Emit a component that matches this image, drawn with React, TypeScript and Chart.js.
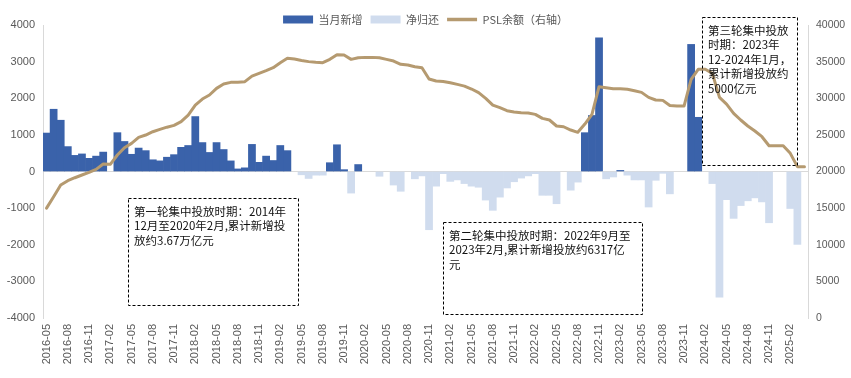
import React, { useEffect, useRef } from 'react';
import { Chart, registerables } from 'chart.js';

Chart.register(...registerables);

// ---- categories (monthly) ----
const months = [
  '2016-05', '2016-06', '2016-07', '2016-08', '2016-09', '2016-10', '2016-11', '2016-12',
  '2017-01', '2017-02', '2017-03', '2017-04', '2017-05', '2017-06', '2017-07', '2017-08', '2017-09', '2017-10', '2017-11', '2017-12',
  '2018-01', '2018-02', '2018-03', '2018-04', '2018-05', '2018-06', '2018-07', '2018-08', '2018-09', '2018-10', '2018-11', '2018-12',
  '2019-01', '2019-02', '2019-03', '2019-04', '2019-05', '2019-06', '2019-07', '2019-08', '2019-09', '2019-10', '2019-11', '2019-12',
  '2020-01', '2020-02', '2020-03', '2020-04', '2020-05', '2020-06', '2020-07', '2020-08', '2020-09', '2020-10', '2020-11', '2020-12',
  '2021-01', '2021-02', '2021-03', '2021-04', '2021-05', '2021-06', '2021-07', '2021-08', '2021-09', '2021-10', '2021-11', '2021-12',
  '2022-01', '2022-02', '2022-03', '2022-04', '2022-05', '2022-06', '2022-07', '2022-08', '2022-09', '2022-10', '2022-11', '2022-12',
  '2023-01', '2023-02', '2023-03', '2023-04', '2023-05', '2023-06', '2023-07', '2023-08', '2023-09', '2023-10', '2023-11', '2023-12',
  '2024-01', '2024-02', '2024-03', '2024-04', '2024-05', '2024-06', '2024-07', '2024-08', '2024-09', '2024-10', '2024-11', '2024-12',
  '2025-01', '2025-02', '2025-03', '2025-04',
];

// ---- monthly net change of PSL (亿元): >0 当月新增, <0 净归还 ----
const netChange = [
  1050, 1700, 1400, 680, 440, 480, 360, 420,
  530, 0, 1060, 820, 470, 640, 570, 320, 290, 390, 460, 660,
  710, 1500, 790, 520, 790, 600, 290, 70, 100, 740, 250, 420,
  300, 710, 570, 0, -90, -190, -100, -100, 240, 730, 50, -590,
  190, 0, 0, -130, 0, -370, -540, 0, -200, -120, -1590, -400,
  -60, -270, -230, -330, -400, -430, -780, -1060, -700, -450, -280, -180,
  -120, -60, -650, -650, -880, 0, -510, -290, 1060, 1530, 3650, -200,
  -150, 30, -100, -230, -230, -970, -240, -50, -610, 0, 0, 3470,
  1480, 0, -330, -3430, -770, -1280, -930, -800, -720, -830, -1400, 0,
  0, -1010, -1990, 0,
];

// ---- PSL balance (亿元, right axis) ----
const pslBalance = [
  15000, 16560, 18150, 18750, 19150, 19520, 19880, 20290,
  21020, 20980, 22250, 23250, 23840, 24660, 24980, 25430, 25750, 26050, 26300, 26800,
  27700, 29070, 29890, 30440, 31350, 31940, 32170, 32200, 32260, 33030, 33400, 33760,
  34170, 34850, 35450, 35350, 35150, 35000, 34900, 34850, 35310, 35950, 35900, 35310,
  35530, 35580, 35580, 35530, 35310, 35080, 34630, 34530, 34300, 34170, 32620, 32350,
  32300, 32120, 31890, 31660, 31260, 30760, 29990, 29070, 28710, 28300, 28120, 28030,
  27980, 27800, 27250, 27030, 26210, 26110, 25660, 25350, 26480, 27800, 31580, 31440,
  31300, 31300, 31220, 31030, 30800, 30120, 29760, 29710, 29000, 28940, 28940, 32580,
  33950, 33950, 33400, 30120, 29210, 27940, 27030, 26210, 25530, 24750, 23520, 23520,
  23520, 22480, 20660, 20660,
];

// ---- axis tick settings ----
const leftAxisRange = [-4000, 4000, 1000];
const rightAxisRange = [0, 40000, 5000];

// ---- series labels ----
const seriesNames = ['当月新增', '净归还', 'PSL余额（右轴）'];

// ---- annotation texts ----
const noteTexts = [
  ['第一轮集中投放时期：2014年', '12月至2020年2月,累计新增投', '放约3.67万亿元'],
  ['第二轮集中投放时期：2022年9月至', '2023年2月,累计新增投放约6317亿', '元'],
  ['第三轮集中投放', '时期：2023年', '12-2024年1月，', '累计新增投放约', '5000亿元'],
];
// box extents in [category index from, to, left-axis value top, bottom]
const noteBoxes = [
  [11.5, 35.5, -720, -3640],
  [56.0, 84.0, -1370, -3880],
  [92.6, 106.0, 4210, 190],
];

const newIssue = netChange.map((v) => (v > 0 ? v : null));
const netRepay = netChange.map((v) => (v < 0 ? v : null));

const DARK = '#3A62AA';
const LIGHT = '#D0DCEE';
const TAN = '#B59A70';
const AXIS = '#D9D9D9';
const TICK = '#595959';

const notesPlugin = {
  id: 'notes',
  afterDraw(chart: any) {
    const { ctx } = chart;
    const x = chart.scales.x;
    const y = chart.scales.y;
    ctx.save();
    noteBoxes.forEach((b, k) => {
      const l = Math.round(x.getPixelForValue(b[0])) + 0.5;
      const r = Math.round(x.getPixelForValue(b[1])) + 0.5;
      const t = Math.round(y.getPixelForValue(b[2])) + 0.5;
      const bt = Math.round(y.getPixelForValue(b[3])) + 0.5;
      ctx.setLineDash([3, 2]);
      ctx.lineWidth = 1;
      ctx.strokeStyle = '#000';
      ctx.strokeRect(l, t, r - l, bt - t);
      ctx.setLineDash([]);
      ctx.fillStyle = '#111';
      ctx.font = '11.5px "Noto Sans CJK SC", sans-serif';
      ctx.textBaseline = 'middle';
      ctx.textAlign = 'left';
      noteTexts[k].forEach((line, j) => {
        ctx.fillText(line, l + 5.5, t + 13 + j * 14.5);
      });
    });
    ctx.restore();
  },
};

const legendFitPlugin = {
  id: 'legendFit',
  beforeUpdate(chart: any) {
    const lg = chart.legend;
    if (lg && !lg._patchedFit) {
      const orig = lg.fit.bind(lg);
      lg.fit = function () {
        orig();
        this.height = 19;
      };
      lg._patchedFit = true;
    }
  },
};

export default function App() {
  const ref = useRef<HTMLCanvasElement | null>(null);

  useEffect(() => {
    if (!ref.current) return;
    Chart.defaults.font.family = '"Liberation Sans", "Noto Sans CJK SC", sans-serif';
    const chart = new Chart(ref.current, {
      type: 'bar',
      data: {
        labels: months,
        datasets: [
          {
            type: 'bar',
            label: seriesNames[0],
            data: newIssue,
            backgroundColor: DARK,
            borderWidth: 0,
            grouped: false,
            categoryPercentage: 1,
            barPercentage: 1,
            yAxisID: 'y',
            order: 1,
          } as any,
          {
            type: 'bar',
            label: seriesNames[1],
            data: netRepay,
            backgroundColor: LIGHT,
            borderWidth: 0,
            grouped: false,
            categoryPercentage: 1,
            barPercentage: 1,
            yAxisID: 'y',
            order: 1,
          } as any,
          {
            type: 'line',
            label: seriesNames[2],
            data: pslBalance,
            borderColor: TAN,
            backgroundColor: TAN,
            borderWidth: 3,
            pointRadius: 0,
            tension: 0,
            borderJoinStyle: 'round',
            borderCapStyle: 'round',
            yAxisID: 'y1',
            order: 0,
          } as any,
        ],
      },
      options: {
        responsive: false,
        animation: false,
        devicePixelRatio: 1,
        layout: { padding: { top: 6, left: 0, right: 0, bottom: 0 } },
        plugins: {
          tooltip: { enabled: false },
          legend: {
            position: 'top',
            align: 'center',
            labels: {
              color: TICK,
              font: { size: 11, family: '"Noto Sans CJK SC", sans-serif' },
              padding: 8,
              boxWidth: 30,
              boxHeight: 8,
              usePointStyle: true,
              pointStyleWidth: 30,
              generateLabels: (chart: any) =>
                chart.data.datasets.map((ds: any, i: number) => ({
                  text: ds.label,
                  datasetIndex: i,
                  fillStyle: ds.type === 'line' ? ds.borderColor : ds.backgroundColor,
                  strokeStyle: ds.type === 'line' ? ds.borderColor : ds.backgroundColor,
                  lineWidth: ds.type === 'line' ? 3.5 : 0,
                  pointStyle: ds.type === 'line' ? 'line' : 'rect',
                  hidden: false,
                  fontColor: TICK,
                })),
            },
          },
        },
        scales: {
          x: {
            type: 'category',
            offset: true,
            grid: { display: false, drawTicks: false },
            border: { display: false },
            ticks: {
              autoSkip: false,
              minRotation: 90,
              maxRotation: 90,
              padding: 6,
              color: TICK,
              font: { size: 11 },
              callback: function (this: any, val: any, idx: number) {
                return idx % 3 === 0 ? months[idx] : '';
              },
            },
            afterFit: (s: any) => {
              s.height = 60;
            },
          },
          y: {
            position: 'left',
            min: leftAxisRange[0],
            max: leftAxisRange[1],
            grid: {
              drawTicks: false,
              color: (c: any) => (c.tick && c.tick.value === 0 ? AXIS : 'rgba(0,0,0,0)'),
              lineWidth: 1,
            },
            border: { display: true, color: AXIS, width: 1 },
            ticks: {
              stepSize: leftAxisRange[2],
              padding: 8,
              color: TICK,
              font: { size: 11 },
              callback: (v: any) => String(v),
            },
            afterFit: (s: any) => {
              s.width = 43;
            },
          },
          y1: {
            position: 'right',
            min: rightAxisRange[0],
            max: rightAxisRange[1],
            grid: { drawOnChartArea: false, drawTicks: false },
            border: { display: true, color: AXIS, width: 1 },
            ticks: {
              stepSize: rightAxisRange[2],
              padding: 8,
              color: TICK,
              font: { size: 10.5 },
              callback: (v: any) => String(v),
            },
            afterFit: (s: any) => {
              s.width = 43;
            },
          },
        },
      },
      plugins: [legendFitPlugin, notesPlugin],
    });
    return () => chart.destroy();
  }, []);

  return (
    <div style={{ position: 'fixed', left: 0, top: 0, width: 851, height: 378, background: '#fff' }}>
      <canvas ref={ref} width={851} height={378} style={{ display: 'block', width: 851, height: 378 }} />
    </div>
  );
}
